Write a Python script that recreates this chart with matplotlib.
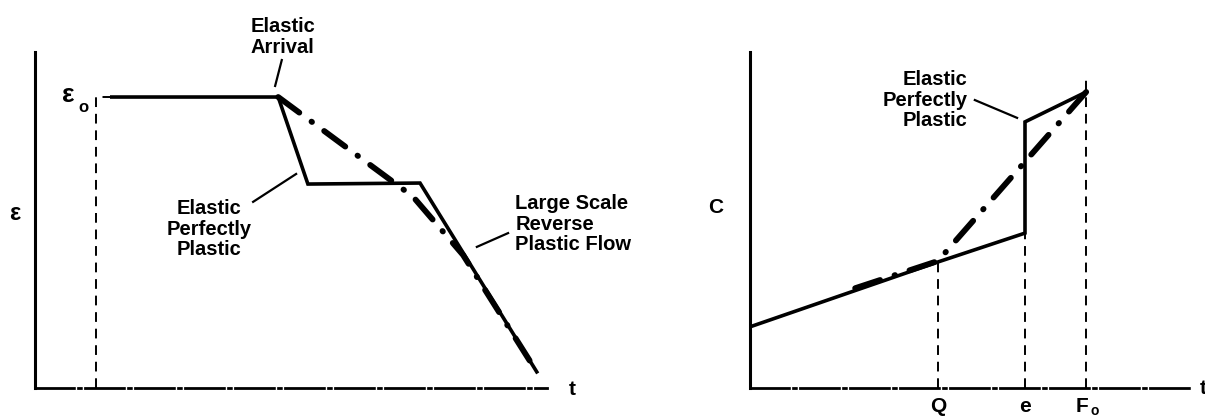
import matplotlib.pyplot as plt

plt.rcParams['font.family'] = ['Liberation Sans', 'DejaVu Sans']

# left panel: strain vs time
eps0 = 8.66
t_eps0 = 1.2
left_solid_t = [1.5, 4.75, 5.33, 7.52, 9.8]
left_solid_eps = [eps0, eps0, 6.07, 6.1, 0.48]
left_dd_t = [4.75, 7.38, 8.36, 9.8]
left_dd_eps = [eps0, 5.7, 3.96, 0.48]

# right panel: C vs time
right_solid_x = [0, 4.27, 6.25, 6.25, 7.64]
right_solid_c = [1.82, 3.75, 4.61, 7.92, 8.81]
right_dd_x = [2.39, 4.27, 7.64]
right_dd_c = [2.97, 3.78, 8.81]
mark_x = [4.27, 6.25, 7.64]
mark_top = [3.75, 4.61, 9.32]
mark_labels = ['Q', 'e', 'F']

W, H = 1205, 417
fig = plt.figure(figsize=(W / 100, H / 100), dpi=100)
ax1 = fig.add_axes([35 / W, 29 / H, 512 / W, 336 / H])
ax2 = fig.add_axes([750 / W, 29 / H, 440 / W, 336 / H])

dd_style = dict(color='black', lw=4.2, linestyle=(0, (4.5, 2.6, 0.1, 2.6)),
                dash_capstyle='round', solid_capstyle='round')
dash_style = dict(color='black', lw=1.4, linestyle=(0, (5, 3.5)))
txt = dict(fontsize=14.5, fontweight='bold', linespacing=1.1)

for ax in (ax1, ax2):
    ax.set_xlim(0, 10)
    ax.set_ylim(0, 10)
    ax.set_xticks([])
    ax.set_yticks([])
    ax.spines['top'].set_visible(False)
    ax.spines['right'].set_visible(False)
    ax.spines['left'].set_linewidth(2.2)
    ax.spines['bottom'].set_linewidth(2.0)
    ax.spines['bottom'].set_linestyle((0, (14, 1.5, 1, 1.5)))
    ax.patch.set_alpha(0)

# ---- left panel ----
ax1.plot([t_eps0, t_eps0, left_solid_t[0]], [0, eps0, eps0], **dash_style)
ax1.plot(left_dd_t, left_dd_eps, **dd_style)
ax1.plot(left_solid_t, left_solid_eps, color='black', lw=2.6, solid_joinstyle='miter')

ax1.text(0.64, eps0 + 0.05, 'ε', fontsize=19, fontweight='bold', ha='center', va='center')
ax1.text(0.95, eps0 - 0.3, 'o', fontsize=12, fontweight='bold', ha='center', va='center')
ax1.text(-0.39, 5.2, 'ε', fontsize=17, fontweight='bold', ha='center', va='center', clip_on=False)
ax1.text(10.5, -0.05, 't', fontsize=15, fontweight='bold', ha='center', va='center', clip_on=False)

ax1.text(4.84, 10.45, 'Elastic\nArrival', ha='center', va='center', clip_on=False, **txt)
ax1.plot([4.82, 4.69], [9.76, 8.99], color='black', lw=1.6, clip_on=False)

ax1.text(3.4, 4.73, 'Elastic\nPerfectly\nPlastic', ha='center', va='center', **txt)
ax1.plot([4.26, 5.1], [5.54, 6.37], color='black', lw=1.6)

ax1.text(9.38, 4.88, 'Large Scale\nReverse\nPlastic Flow', ha='left', va='center',
         clip_on=False, **txt)
ax1.plot([8.63, 9.24], [4.2, 4.61], color='black', lw=1.6)

# ---- right panel ----
for x, top in zip(mark_x, mark_top):
    ax2.plot([x, x], [0, top], **dash_style)
ax2.plot(right_dd_x, right_dd_c, **dd_style)
ax2.plot(right_solid_x, right_solid_c, color='black', lw=2.6, solid_joinstyle='miter')

label_dx = [0, 0, -0.1]
for x, lab, dx in zip(mark_x, mark_labels, label_dx):
    ax2.text(x + dx, -0.55, lab, fontsize=15, fontweight='bold', ha='center', va='center',
             clip_on=False)
ax2.text(mark_x[2] + 0.2, -0.68, 'o', fontsize=10, fontweight='bold', ha='center',
         va='center', clip_on=False)

ax2.text(-0.77, 5.36, 'C', fontsize=15, fontweight='bold', ha='center', va='center',
         clip_on=False)
ax2.text(10.3, 0, 't', fontsize=15, fontweight='bold', ha='center', va='center', clip_on=False)

ax2.text(4.95, 8.57, 'Elastic\nPerfectly\nPlastic', ha='right', va='center', **txt)
ax2.plot([5.11, 6.07], [8.57, 8.04], color='black', lw=1.6)

fig.savefig('out.png', dpi=100)
